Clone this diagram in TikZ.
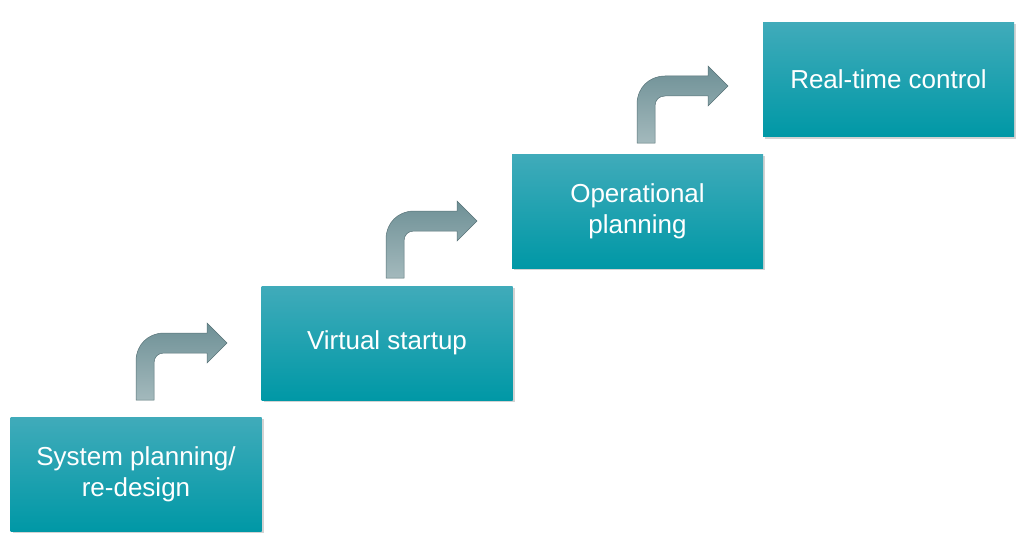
\documentclass[tikz,border=0pt]{standalone}
\usepackage{fontspec}
\setmainfont{Liberation Sans}
\usetikzlibrary{shadows}
\definecolor{boxtop}{HTML}{40ABBA}
\definecolor{boxbot}{HTML}{0098A6}
\definecolor{arrtop}{HTML}{6E9096}
\definecolor{arrbot}{HTML}{A3B9BC}
\tikzset{
  stage/.style={minimum width=251pt, minimum height=114pt, inner sep=0pt,
    top color=boxtop, bottom color=boxbot, text=white, align=center,
    font=\fontsize{26}{31}\selectfont,
    drop shadow={shadow xshift=2pt, shadow yshift=-2pt, opacity=0.35}},
  bentarrow/.style={top color=arrtop, bottom color=arrbot, draw=arrtop!80!black, line width=0.5pt}
}
\begin{document}
\begin{tikzpicture}[x=1pt,y=-1pt]
\useasboundingbox (0,0) rectangle (1024,559);
\node[stage] (s1) at (136,474) {System planning/\\re-design};
\node[stage] (s2) at (387,343) {Virtual startup};
\node[stage] (s3) at (637.5,211) {Operational\\planning};
\node[stage] (s4) at (888.5,79.5) {Real-time control};
\foreach \x/\y [count=\i] in {136/400, 386/278, 637/143}{
  \coordinate (a\i) at (\x,\y);
  \path[bentarrow] (a\i) -- ++(0,-39) .. controls +(0,-16) and +(-16,0) .. ++(28,-28)
    -- ++(43,0) -- ++(0,-10) -- ++(20,20) -- ++(-20,20) -- ++(0,-10)
    -- ++(-43,0) .. controls +(-6,0) and +(0,-6) .. ++(-10,10) -- ++(0,37) -- cycle;
}
\end{tikzpicture}
\end{document}
